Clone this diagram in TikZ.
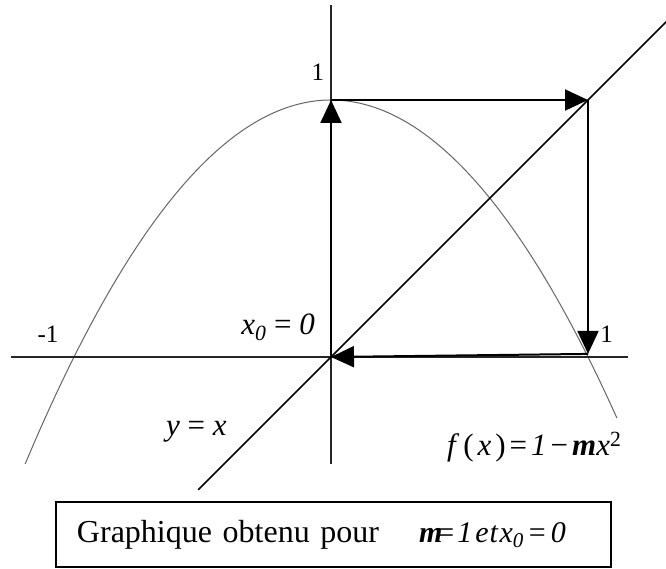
\documentclass[tikz,border=0pt]{standalone}
\usepackage{fontspec}
\setmainfont{Liberation Serif}
\usetikzlibrary{arrows.meta}
\newcommand{\xnought}{\textit{x}\textsubscript{\textit{0}}}
\newcommand{\boldm}{\textbf{\textit{m}}}
\begin{document}
\begin{tikzpicture}[
    x=257pt, y=257pt,
    axis/.style={line width=1.2pt, black!85},
    diag/.style={line width=1.5pt},
    curve/.style={line width=1pt, black!60},
    cobweb/.style={line width=2pt, -{Triangle[length=23pt,width=21pt]}},
    tick/.style={font=\fontsize{25}{27}\selectfont, inner sep=0pt},
    eqn/.style={font=\fontsize{31}{34}\selectfont, inner sep=0pt},
    caption/.style={draw, line width=1.2pt, inner xsep=21pt, text width=513pt,
        minimum height=65pt, align=left, font=\fontsize{32}{35}\selectfont}
]
\useasboundingbox (-331pt,-211pt) rectangle (335pt,357pt);

% Axes and diagonal end points
\coordinate (xl) at (-1.245, 0);
\coordinate (xr) at (1.156, 0);
\coordinate (yb) at (0, -0.416);
\coordinate (yt) at (0, 1.370);
\coordinate (dl) at (-0.517, -0.517);
\coordinate (dr) at (1.305, 1.305);

% Cobweb corners
\coordinate (O) at (0, 0);
\coordinate (T) at (0, 1);
\coordinate (C) at (1, 1);
\coordinate (R) at (1, 0.012);

% Parabola f(x) = 1 - x^2
\draw[curve] plot[domain=-1.19:1.113, samples=80, smooth] (\x, {1-\x*\x});

% Axes
\draw[axis] (xl) -- (xr);
\draw[axis] (yb) -- (yt);

% First bisector
\draw[diag] (dl) -- (dr);

% Iteration path
\draw[cobweb] (O) -- (T);
\draw[cobweb] (T) -- (C);
\draw[cobweb] (C) -- (R);
\draw[cobweb] (R) -- (O);

% Labels
\node[tick, anchor=base] (ytick) at (-0.051, 1.074) {1};
\node[tick, anchor=base] (xneg) at (-1.101, 0.055) {-1};
\node[tick, anchor=base] (xpos) at (1.072, 0.058) {1};
\node[eqn, anchor=base east] (start) at (-0.062, 0.086) {\xnought\ = \textit{0}};
\node[eqn, anchor=base east] (bisect) at (-0.405, -0.304) {\textit{y} = \textit{x}};
\node[eqn, anchor=base west] (func) at (0.451, -0.385)
    {\textit{f}\kern4pt(\kern4pt\textit{x}\kern4pt)\kern4pt=\kern4pt\textit{1}\kern4pt−\kern4pt\boldm\textit{x}\textsuperscript{2}};

% Caption box
\node[caption] (legend) at (0.0097, -0.6907)
    {\mbox{Graphique obtenu pour\hspace{40pt}{\fontsize{30}{32}\selectfont
    \boldm\kern-5pt=\kern3pt\textit{1\kern3pt e\kern1pt t}\kern1pt\xnought\kern5pt=\kern5pt\textit{0}}}};

\end{tikzpicture}
\end{document}
